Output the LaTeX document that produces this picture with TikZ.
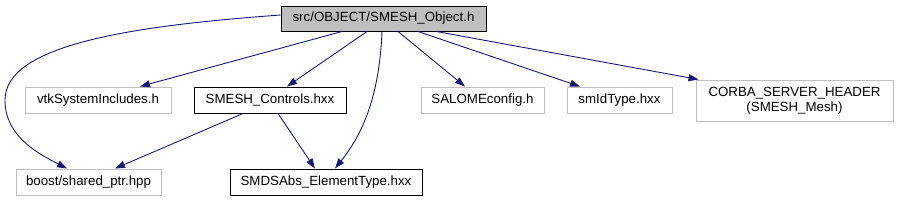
\documentclass[tikz,border=0pt]{standalone}
\usepackage{fontspec}
\setmainfont{Liberation Sans}
\usetikzlibrary{arrows.meta}
\definecolor{edgeblue}{HTML}{191970}
\definecolor{boxgray}{HTML}{BFBFBF}
\begin{document}
\begin{tikzpicture}[x=1pt,y=-1pt,
  every node/.style={font=\fontsize{13.3}{15}\selectfont, inner sep=0pt, align=center},
  box/.style={draw=black, line width=1pt, rectangle, minimum height=26pt},
  extbox/.style={draw=boxgray, line width=1pt, rectangle, minimum height=26pt},
  mainbox/.style={draw=black, fill=boxgray, line width=1pt, rectangle, minimum height=25pt},
  dep/.style={draw=edgeblue, line width=0.9pt, -{Triangle[length=10pt,width=7pt]}, color=edgeblue}]
\useasboundingbox (0,0) rectangle (898,201);
\node[mainbox, minimum width=205pt] (top) at (383.5,18.5) {src/OBJECT/SMESH\_Object.h};
\node[extbox, minimum width=146pt] (vtk) at (98,100) {vtkSystemIncludes.h};
\node[box, minimum width=152pt] (ctrl) at (270,100) {SMESH\_Controls.hxx};
\node[extbox, minimum width=123pt] (salome) at (482.5,100) {SALOMEconfig.h};
\node[extbox, minimum width=105pt] (smid) at (619.5,100) {smIdType.hxx};
\node[extbox, minimum width=197pt, minimum height=41pt] (corba) at (794.5,100.5) {CORBA\_SERVER\_HEADER\\(SMESH\_Mesh)};
\node[extbox, minimum width=145pt] (boost) at (88.5,182) {boost/shared\_ptr.hpp};
\node[box, minimum width=192pt] (smds) at (326,182) {SMDSAbs\_ElementType.hxx};

\draw[dep] ([yshift=3.5pt]top.west) .. controls (130,26) and (5,45) .. (5,100)
  .. controls (5,135) and (35,152) .. ([xshift=-21.5pt]boost.north);
\draw[dep] ([xshift=-41.5pt]top.south) -- ([xshift=42pt]vtk.north);
\draw[dep] ([xshift=-16.5pt]top.south) -- ([xshift=17pt]ctrl.north);
\draw[dep] ([xshift=-1.5pt]top.south) .. controls (380,80) and (370,125) .. ([xshift=9pt]smds.north);
\draw[dep] ([xshift=14.5pt]top.south) -- ([xshift=-17.5pt]salome.north);
\draw[dep] ([xshift=34.5pt]top.south) -- ([xshift=-39.5pt]smid.north);
\draw[dep] ([xshift=53pt]top.south) -- ([xshift=3pt]corba.north west);
\draw[dep] ([xshift=-27pt]ctrl.south) -- ([xshift=26.5pt]boost.north);
\draw[dep] ([xshift=8pt]ctrl.south) -- ([xshift=-11pt]smds.north);
\end{tikzpicture}
\end{document}
